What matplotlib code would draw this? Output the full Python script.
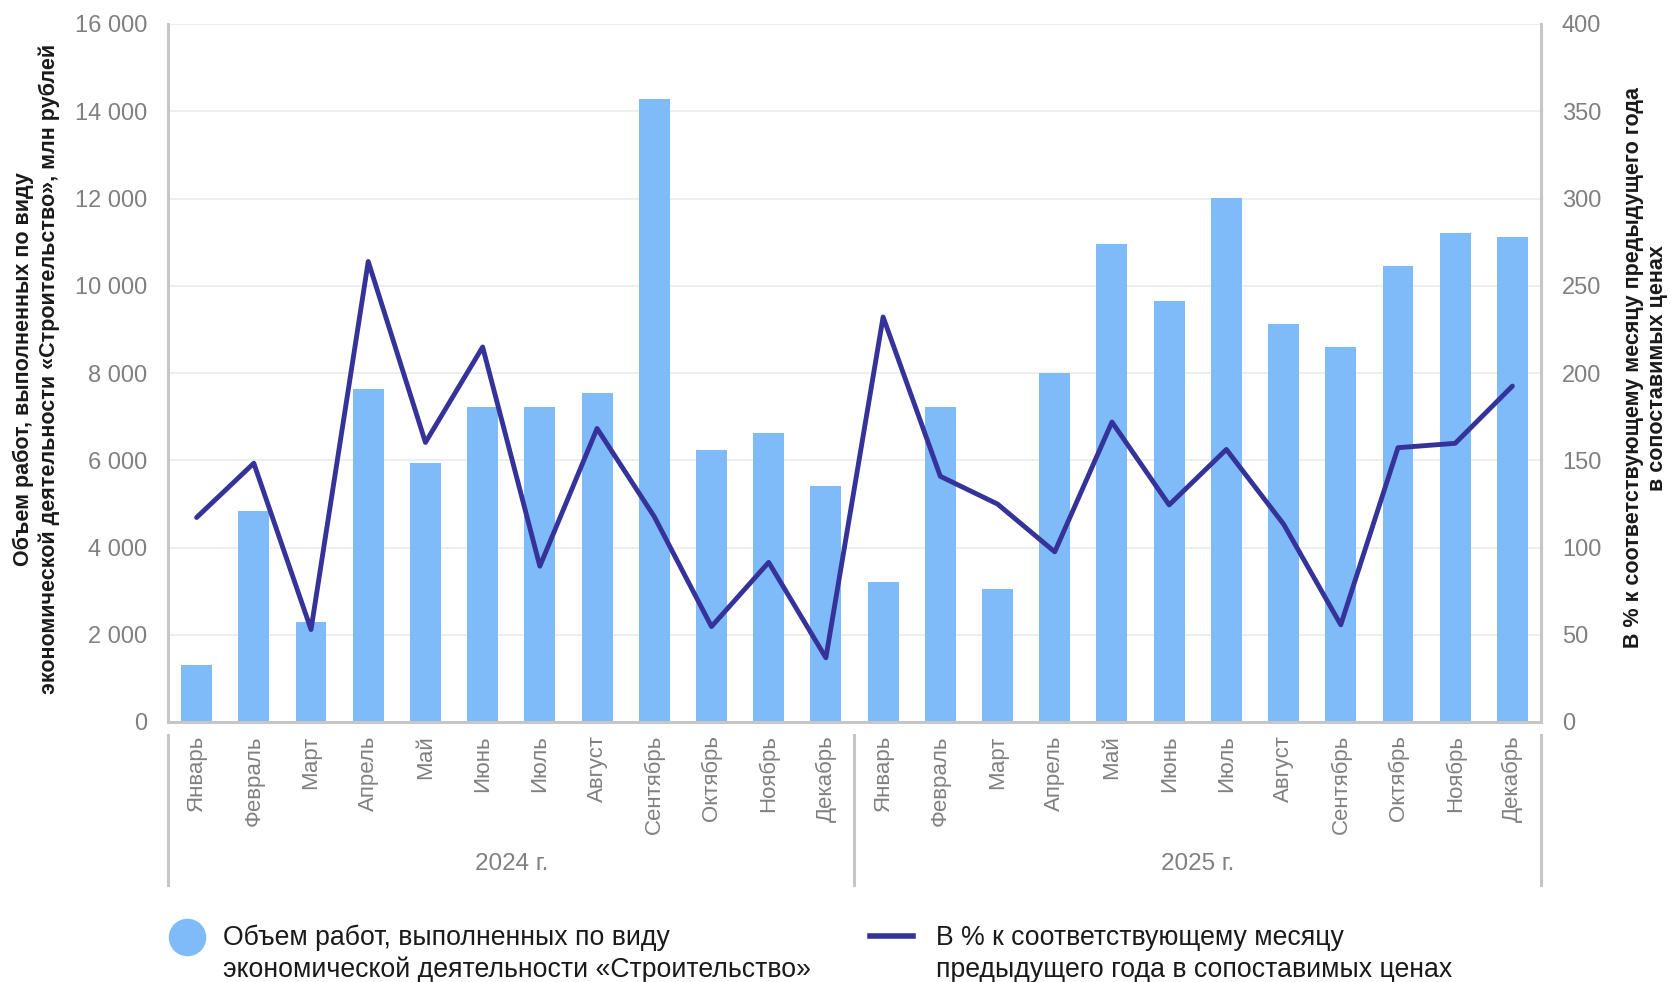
import matplotlib
matplotlib.use('Agg')
import matplotlib.pyplot as plt
from matplotlib.lines import Line2D
import matplotlib.transforms as mtransforms
import numpy as np

plt.rcParams['font.family'] = ['Liberation Sans', 'DejaVu Sans']

# ---- data ----
months = ['Январь', 'Февраль', 'Март', 'Апрель', 'Май', 'Июнь', 'Июль',
          'Август', 'Сентябрь', 'Октябрь', 'Ноябрь', 'Декабрь']
years = ['2024 г.', '2025 г.']
volume_2024 = [1310, 4830, 2300, 7630, 5940, 7220, 7220, 7540, 14290, 6240, 6620, 5410]
volume_2025 = [3200, 7220, 3060, 8000, 10960, 9650, 12020, 9130, 8590, 10450, 11220, 11110]
percent_2024 = [117.2, 148.3, 53.0, 263.9, 160.2, 214.9, 89.3, 168.2, 117.7, 54.7, 91.5, 36.8]
percent_2025 = [232.1, 140.8, 124.9, 97.5, 171.9, 124.4, 156.2, 113.4, 55.7, 157.2, 159.7, 192.5]
left_ticks = list(range(0, 16001, 2000))
right_ticks = list(range(0, 401, 50))

bar_label = ['Объем работ, выполненных по виду',
             'экономической деятельности «Строительство»']
line_label = ['В % к соответствующему месяцу',
              'предыдущего года в сопоставимых ценах']
left_ylabel = ['Объем работ, выполненных по виду',
               'экономической деятельности «Строительство», млн рублей']
right_ylabel = ['В % к соответствующему месяцу предыдущего года',
                'в сопоставимых ценах']

volume = volume_2024 + volume_2025
percent = percent_2024 + percent_2025
labels = months + months

BAR_C = '#7fbaf9'
LINE_C = '#35329a'
GRID_C = '#ebebeb'
SPINE_C = '#c6c6c6'
TICK_C = '#808080'
TEXT_C = '#1a1a1a'

W, H = 1670, 982
fig = plt.figure(figsize=(W / 100, H / 100), dpi=100)

L, R, T, B = 168, 1541, 24, 722
ax = fig.add_axes([L / W, 1 - B / H, (R - L) / W, (B - T) / H])
x = np.arange(len(volume))
ax.bar(x, volume, width=0.54, color=BAR_C, zorder=2)
ax.set_xlim(-0.5, len(volume) - 0.5)
ax.set_ylim(0, 16000)
ax.set_yticks(left_ticks)
ax.set_yticklabels([f'{v:,}'.replace(',', ' ') for v in left_ticks])
ax.grid(axis='y', color=GRID_C, lw=1.2, zorder=0)
ax.set_axisbelow(True)
ax.set_xticks(x)
ax.set_xticklabels(labels, rotation=90, va='top', ha='center')
ax.tick_params(axis='x', length=0, pad=9.5, labelsize=16, labelcolor=TICK_C)
ax.tick_params(axis='y', length=0, pad=15, labelsize=17, labelcolor=TICK_C)
for s in ['top', 'right']:
    ax.spines[s].set_visible(False)
for s in ['left', 'bottom']:
    ax.spines[s].set_color(SPINE_C)
    ax.spines[s].set_linewidth(2.2)

ax2 = ax.twinx()
ax2.plot(x, percent, color=LINE_C, lw=3.5, solid_joinstyle='round',
         solid_capstyle='round', zorder=3)
ax2.set_ylim(0, 400)
ax2.set_yticks(right_ticks)
ax2.tick_params(axis='y', length=0, pad=15, labelsize=17, labelcolor=TICK_C)
for s in ['top', 'left', 'bottom']:
    ax2.spines[s].set_visible(False)
ax2.spines['right'].set_color(SPINE_C)
ax2.spines['right'].set_linewidth(2.2)

# group labels and separators
tr = mtransforms.blended_transform_factory(ax.transData, fig.transFigure)
for xs in [-0.5, 11.5, 23.5]:
    fig.add_artist(Line2D([xs, xs], [1 - 735 / H, 1 - 885 / H], color=SPINE_C,
                          lw=2.2, transform=tr))
for i, yl in enumerate(years):
    fig.text(5.5 + 12 * i, 1 - 864 / H, yl, transform=tr, ha='center', va='center',
             fontsize=17.5, color=TICK_C)

# axis titles
for xp, t in zip([23, 49], left_ylabel):
    fig.text(xp / W, 1 - 369 / H, t, rotation=90, ha='center', va='center',
             fontsize=15.5, fontweight='bold', color=TEXT_C)
for xp, t in zip([1633, 1657], right_ylabel):
    fig.text(xp / W, 1 - 368 / H, t, rotation=90, ha='center', va='center',
             fontsize=15.5, fontweight='bold', color=TEXT_C)

# legend
fig.add_artist(Line2D([187 / W], [1 - 937 / H], marker='o', ms=26, color=BAR_C,
                      lw=0, transform=fig.transFigure))
for yp, t in zip([938, 970], bar_label):
    fig.text(223 / W, 1 - yp / H, t, ha='left', va='center', fontsize=19.2, color=TEXT_C)
fig.add_artist(Line2D([870 / W, 913 / W], [1 - 936 / H, 1 - 936 / H], color=LINE_C,
                      lw=4, transform=fig.transFigure))
for yp, t in zip([938, 970], line_label):
    fig.text(936 / W, 1 - yp / H, t, ha='left', va='center', fontsize=19.2, color=TEXT_C)

fig.savefig('out.png', dpi=100)
